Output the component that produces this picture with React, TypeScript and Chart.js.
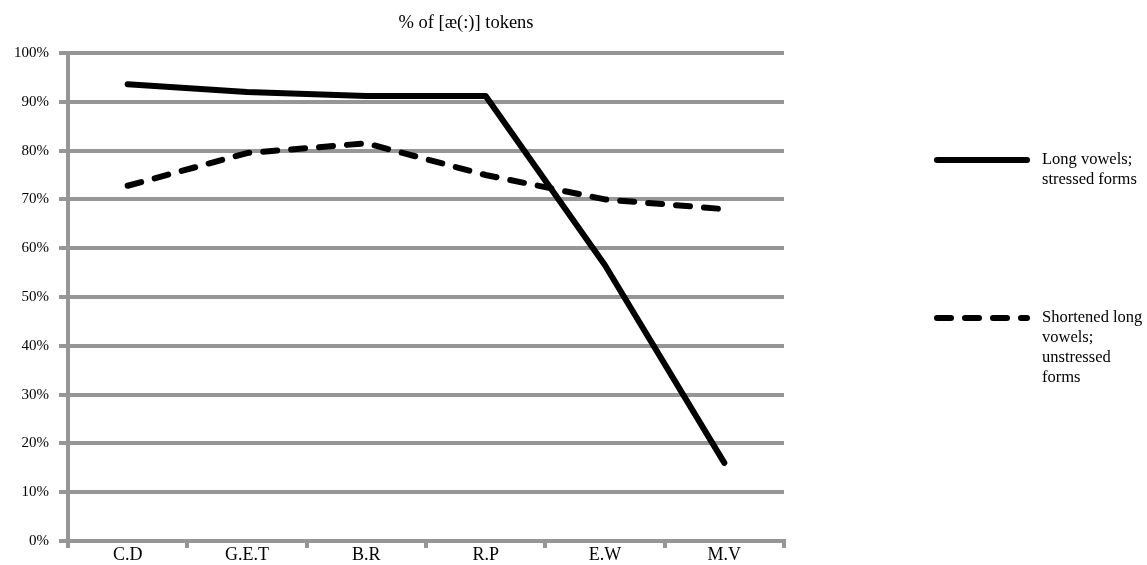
import React, { useEffect, useRef } from "react";
import { Chart, registerables } from "chart.js";

Chart.register(...registerables);

const titleText = "% of [æ(:)] tokens";
const categories = ["C.D", "G.E.T", "B.R", "R.P", "E.W", "M.V"];
const longStressed = [93.6, 92.0, 91.2, 91.2, 56.5, 16.0];
const shortenedUnstressed = [72.8, 79.5, 81.5, 75.0, 70.0, 68.0];
const longLabel = ["Long vowels;", "stressed forms"];
const shortLabel = ["Shortened long", "vowels;", "unstressed", "forms"];
const yMin = 0;
const yMax = 100;
const yStep = 10;

const SERIF = "'Liberation Serif', 'Times New Roman', serif";
const GRID = "#969696";
const DASH = [14, 14];

const overlayPlugin = {
  id: "overlay",
  afterDraw(chart: any) {
    const ctx = chart.ctx;
    ctx.save();
    // title
    ctx.fillStyle = "#000";
    ctx.font = `18.5px ${SERIF}`;
    ctx.textAlign = "center";
    ctx.textBaseline = "middle";
    ctx.fillText(titleText, 466, 23);

    // legend
    const entries = [
      { lines: longLabel, dash: [] as number[], y: 160 },
      { lines: shortLabel, dash: DASH, y: 318 },
    ];
    entries.forEach((e) => {
      ctx.beginPath();
      ctx.strokeStyle = "#000";
      ctx.lineWidth = 6;
      ctx.lineCap = "round";
      ctx.setLineDash(e.dash);
      ctx.moveTo(937, e.y);
      ctx.lineTo(1027, e.y);
      ctx.stroke();
      ctx.setLineDash([]);
      ctx.font = `16.5px ${SERIF}`;
      ctx.textAlign = "left";
      ctx.textBaseline = "middle";
      e.lines.forEach((t, i) => {
        ctx.fillText(t, 1042, e.y + i * 20);
      });
    });
    ctx.restore();
  },
};

export default function App() {
  const ref = useRef<HTMLCanvasElement | null>(null);

  useEffect(() => {
    if (!ref.current) return;
    const chart = new Chart(ref.current, {
      type: "line",
      data: {
        labels: categories,
        datasets: [
          {
            label: longLabel.join(" "),
            data: longStressed,
            borderColor: "#000",
            backgroundColor: "#000",
            borderWidth: 6,
            borderCapStyle: "round",
            borderJoinStyle: "round",
            pointRadius: 0,
            tension: 0,
            fill: false,
          },
          {
            label: shortLabel.join(" "),
            data: shortenedUnstressed,
            borderColor: "#000",
            backgroundColor: "#000",
            borderWidth: 6,
            borderDash: DASH,
            borderCapStyle: "round",
            borderJoinStyle: "round",
            pointRadius: 0,
            tension: 0,
            fill: false,
          },
        ],
      },
      options: {
        animation: false,
        responsive: false,
        maintainAspectRatio: false,
        layout: { padding: { top: 53, right: 363, left: 0, bottom: 0 } },
        plugins: {
          legend: { display: false },
          title: { display: false },
          tooltip: { enabled: false },
        },
        scales: {
          x: {
            offset: true,
            grid: {
              offset: true,
              drawOnChartArea: false,
              drawTicks: true,
              tickLength: 7,
              color: GRID,
              lineWidth: 4,
            },
            border: { display: true, color: GRID, width: 4 },
            ticks: {
              color: "#000",
              font: { family: SERIF, size: 18 },
              padding: -4,
              maxRotation: 0,
            },
            afterFit(scale: any) {
              scale.height = 24;
            },
          },
          y: {
            min: yMin,
            max: yMax,
            grid: {
              color: GRID,
              lineWidth: 4,
              drawTicks: true,
              tickLength: 9,
            },
            border: { display: true, color: GRID, width: 4 },
            ticks: {
              stepSize: yStep,
              color: "#000",
              font: { family: SERIF, size: 15 },
              padding: 10,
              callback: (v: any) => `${v}%`,
            },
            afterFit(scale: any) {
              scale.width = 68;
            },
          },
        },
      },
      plugins: [overlayPlugin],
    } as any);
    return () => chart.destroy();
  }, []);

  return (
    <div style={{ position: "absolute", left: 0, top: 0, width: 1147, height: 565, background: "#fff" }}>
      <canvas ref={ref} width={1147} height={565} style={{ width: 1147, height: 565 }} />
    </div>
  );
}
